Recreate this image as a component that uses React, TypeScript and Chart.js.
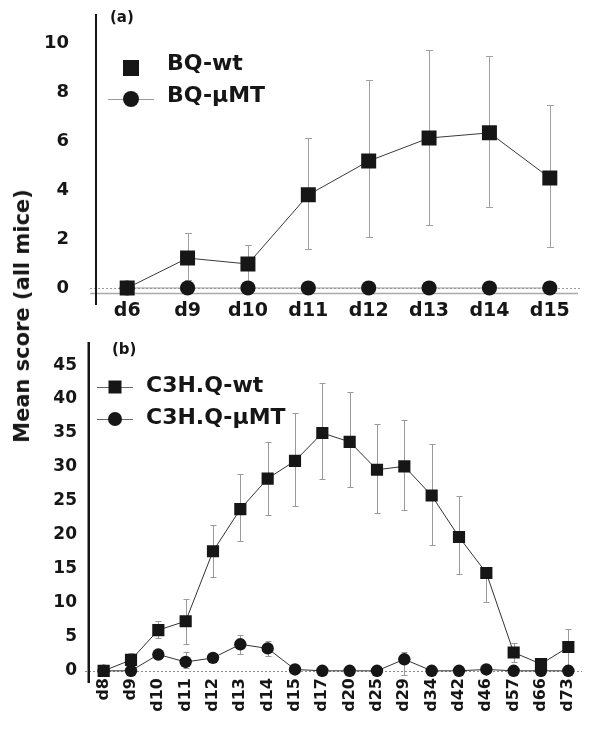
import React, { useEffect, useRef } from 'react';
import { Chart, registerables } from 'chart.js';

Chart.register(...registerables);

// ---------- Panel (a) data ----------
const labelsA = ['d6', 'd9', 'd10', 'd11', 'd12', 'd13', 'd14', 'd15'];
const bqWt = [0, 1.22, 0.98, 3.8, 5.18, 6.12, 6.33, 4.49];
const bqWtHigh = [0, 2.24, 1.76, 6.12, 8.47, 9.71, 9.47, 7.47];
const bqWtLow = [0, 0.33, 0.2, 1.59, 2.08, 2.57, 3.31, 1.67];
const bqMu = [0, 0, 0, 0, 0, 0, 0, 0];
const yTicksA = [0, 2, 4, 6, 8, 10];

// ---------- Panel (b) data ----------
const labelsB = ['d8', 'd9', 'd10', 'd11', 'd12', 'd13', 'd14', 'd15', 'd17', 'd20', 'd25', 'd29', 'd34', 'd42', 'd46', 'd57', 'd66', 'd73'];
const c3hWt = [0, 1.6, 6.0, 7.3, 17.6, 23.8, 28.3, 30.9, 35.0, 33.7, 29.6, 30.1, 25.8, 19.7, 14.4, 2.7, 1.0, 3.5];
const c3hWtHigh = [0, 2.6, 7.4, 10.6, 21.4, 29.0, 33.7, 37.9, 42.3, 41.0, 36.4, 36.9, 33.4, 25.7, 14.4, 4.1, 1.2, 6.1];
const c3hWtLow = [0, 0.6, 4.8, 4.0, 13.8, 19.1, 22.9, 24.2, 28.2, 27.0, 23.2, 23.6, 18.5, 14.2, 10.2, 1.3, 0.8, 0.9];
const c3hMu = [0, 0, 2.4, 1.3, 1.9, 3.9, 3.3, 0.2, 0, 0, 0, 1.7, 0, 0, 0.2, 0, 0, 0];
const c3hMuHigh = [0, 0, 3.0, 2.8, 2.5, 5.3, 4.4, 0.2, 0, 0, 0, 2.8, 0, 0, 0.2, 0, 0, 0];
const c3hMuLow = [0, 0, 1.8, 0.4, 1.3, 2.5, 2.2, 0.2, 0, 0, 0, -0.6, 0, 0, 0.2, 0, 0, 0];
const yTicksB = [0, 5, 10, 15, 20, 25, 30, 35, 40, 45];

const FONT = '"DejaVu Sans", "Liberation Sans", Arial, sans-serif';
const INK = '#161616';

const errorBarsPlugin = {
  id: 'errorBars',
  beforeDatasetsDraw(chart: any, _args: any, opts: any) {
    const { ctx } = chart;
    const ys = chart.scales.y;
    ctx.save();
    ctx.strokeStyle = opts.color || '#9a9a9a';
    ctx.lineWidth = 1;
    const cap = opts.cap || 3.5;
    chart.data.datasets.forEach((ds: any, di: number) => {
      if (!ds.errHigh || !ds.errLow) return;
      const meta = chart.getDatasetMeta(di);
      meta.data.forEach((pt: any, i: number) => {
        const v = ds.data[i];
        const hi = ds.errHigh[i];
        const lo = ds.errLow[i];
        if (hi === v && lo === v) return;
        const x = Math.round(pt.x) + 0.5;
        const yh = Math.round(ys.getPixelForValue(hi)) + 0.5;
        const yl = Math.round(ys.getPixelForValue(lo)) + 0.5;
        ctx.beginPath();
        ctx.moveTo(x, yh);
        ctx.lineTo(x, yl);
        if (hi > v) { ctx.moveTo(x - cap, yh); ctx.lineTo(x + cap, yh); }
        if (lo < v) { ctx.moveTo(x - cap, yl); ctx.lineTo(x + cap, yl); }
        ctx.stroke();
      });
    });
    ctx.restore();
  },
};

const refLinesPlugin = {
  id: 'refLines',
  beforeDatasetsDraw(chart: any, _args: any, opts: any) {
    const { ctx, chartArea } = chart;
    const ys = chart.scales.y;
    ctx.save();
    (opts.lines || []).forEach((l: any) => {
      const y = Math.round(ys.getPixelForValue(l.value)) + 0.5;
      ctx.beginPath();
      ctx.strokeStyle = l.color;
      ctx.lineWidth = l.width || 1;
      ctx.setLineDash(l.dash || []);
      ctx.moveTo(chartArea.left + (l.extLeft || 0), y);
      ctx.lineTo(chartArea.right + (l.extRight || 0), y);
      ctx.stroke();
    });
    ctx.restore();
  },
};

// vertical axis line that runs a little below the plot area, as in the figure
const axisLinePlugin = {
  id: 'axisLine',
  afterDraw(chart: any, _args: any, opts: any) {
    const { ctx, chartArea } = chart;
    ctx.save();
    ctx.strokeStyle = opts.color || INK;
    ctx.lineWidth = opts.width || 2;
    ctx.beginPath();
    ctx.moveTo(chartArea.left - (opts.width || 2) / 2, chartArea.top);
    ctx.lineTo(chartArea.left - (opts.width || 2) / 2, chartArea.bottom + (opts.extBottom || 0));
    ctx.stroke();
    ctx.restore();
  },
};

const customLegendPlugin = {
  id: 'customLegend',
  afterDraw(chart: any, _args: any, opts: any) {
    if (!opts || !opts.items) return;
    const { ctx, chartArea } = chart;
    ctx.save();
    opts.items.forEach((it: any, i: number) => {
      const ds = chart.data.datasets[i];
      const mx = chartArea.left + opts.markerX;
      const my = chartArea.top + opts.rowY[i];
      if (it.line) {
        ctx.beginPath();
        ctx.strokeStyle = it.lineColor;
        ctx.lineWidth = 1;
        ctx.moveTo(mx - opts.lineHalf, Math.round(my) + 0.5);
        ctx.lineTo(mx + opts.lineHalf, Math.round(my) + 0.5);
        ctx.stroke();
      }
      ctx.fillStyle = INK;
      ctx.beginPath();
      if (it.shape === 'rect') {
        ctx.rect(mx - it.size / 2, my - it.size / 2, it.size, it.size);
      } else {
        ctx.arc(mx, my, it.size / 2, 0, Math.PI * 2);
      }
      ctx.fill();
      ctx.font = `bold ${opts.fontSize}px ${FONT}`;
      ctx.textBaseline = 'middle';
      ctx.textAlign = 'left';
      ctx.fillStyle = INK;
      ctx.fillText(ds.label, chartArea.left + opts.textX, my + (it.textDy || 0));
    });
    ctx.restore();
  },
};

const noPadY = (width: number) => (s: any) => {
  s.width = width;
  s.paddingTop = 0;
  s.paddingBottom = 0;
};
const noPadX = (height: number) => (s: any) => {
  s.height = height;
  s.paddingLeft = 0;
  s.paddingRight = 0;
};

function makeConfigA(): any {
  return {
    type: 'line',
    data: {
      labels: labelsA,
      datasets: [
        {
          label: 'BQ-wt', data: bqWt, errHigh: bqWtHigh, errLow: bqWtLow,
          borderColor: '#3a3a3a', borderWidth: 1, pointStyle: 'rect', pointRadius: 10.6,
          pointBackgroundColor: INK, pointBorderColor: INK, pointBorderWidth: 0,
        },
        {
          label: 'BQ-\u03bcMT', data: bqMu,
          borderColor: '#9a9a9a', borderWidth: 1, pointStyle: 'circle', pointRadius: 7.6,
          pointBackgroundColor: INK, pointBorderColor: INK, pointBorderWidth: 0,
        },
      ],
    },
    options: {
      animation: false, responsive: false, devicePixelRatio: 1,
      layout: { padding: { top: 14, right: 20, left: 0, bottom: 0 } },
      plugins: {
        legend: { display: false }, tooltip: { enabled: false },
        errorBars: { color: '#a0a0a0', cap: 3.5 },
        axisLine: { width: 2, extBottom: 5 },
        refLines: {
          lines: [
            { value: 0, color: '#9a9a9a', dash: [2, 2], extLeft: -7, extRight: 0 },
            { value: -0.19, color: '#aaaaaa', width: 1.5, extLeft: -7, extRight: -2 },
          ],
        },
        customLegend: {
          markerX: 34, rowY: [54, 85], lineHalf: 23, textX: 70, fontSize: 22,
          items: [
            { shape: 'rect', size: 16, line: false, textDy: -4 },
            { shape: 'circle', size: 16, line: true, lineColor: '#9a9a9a', textDy: -3 },
          ],
        },
      },
      scales: {
        x: {
          offset: true,
          grid: { display: false, drawTicks: false, offset: true }, border: { display: false },
          ticks: { font: { family: FONT, size: 19, weight: 'bold' }, color: INK, padding: 0, maxRotation: 0, autoSkip: false },
          afterFit: noPadX(30),
        },
        y: {
          min: -0.49, max: 11.18,
          grid: { display: false, drawTicks: false }, border: { display: false },
          ticks: { font: { family: FONT, size: 18, weight: 'bold' }, color: INK, padding: 28 },
          afterBuildTicks: (s: any) => { s.ticks = yTicksA.map((v) => ({ value: v })); },
          afterFit: noPadY(97),
        },
      },
    },
    plugins: [errorBarsPlugin, refLinesPlugin, axisLinePlugin, customLegendPlugin],
  };
}

function makeConfigB(): any {
  return {
    type: 'line',
    data: {
      labels: labelsB,
      datasets: [
        {
          label: 'C3H.Q-wt', data: c3hWt, errHigh: c3hWtHigh, errLow: c3hWtLow,
          borderColor: '#333333', borderWidth: 1, pointStyle: 'rect', pointRadius: 8.6,
          pointBackgroundColor: INK, pointBorderColor: INK, pointBorderWidth: 0,
        },
        {
          label: 'C3H.Q-\u03bcMT', data: c3hMu, errHigh: c3hMuHigh, errLow: c3hMuLow,
          borderColor: '#333333', borderWidth: 1, pointStyle: 'circle', pointRadius: 6.2,
          pointBackgroundColor: INK, pointBorderColor: INK, pointBorderWidth: 0,
        },
      ],
    },
    options: {
      animation: false, responsive: false, devicePixelRatio: 1,
      layout: { padding: { top: 22, right: 18, left: 0, bottom: 0 } },
      plugins: {
        legend: { display: false }, tooltip: { enabled: false },
        errorBars: { color: '#9a9a9a', cap: 3 },
        axisLine: { width: 2.5, extBottom: 6 },
        refLines: {
          lines: [{ value: 0, color: '#8a8a8a', dash: [2, 2], extLeft: -5, extRight: 0 }],
        },
        customLegend: {
          markerX: 25, rowY: [45, 77], lineHalf: 18, textX: 56, fontSize: 22,
          items: [
            { shape: 'rect', size: 13, line: true, lineColor: '#666666', textDy: -1 },
            { shape: 'circle', size: 14, line: true, lineColor: '#666666', textDy: -1 },
          ],
        },
      },
      scales: {
        x: {
          offset: true,
          grid: { display: false, drawTicks: false, offset: true }, border: { display: false },
          ticks: { font: { family: FONT, size: 16, weight: 'bold' }, color: INK, padding: 1, minRotation: 90, maxRotation: 90, autoSkip: false },
          afterFit: noPadX(60),
        },
        y: {
          min: -0.91, max: 48.4,
          grid: { display: false, drawTicks: false }, border: { display: false },
          ticks: { font: { family: FONT, size: 17, weight: 'bold' }, color: INK, padding: 13 },
          afterBuildTicks: (s: any) => { s.ticks = yTicksB.map((v) => ({ value: v })); },
          afterFit: noPadY(90),
        },
      },
    },
    plugins: [errorBarsPlugin, refLinesPlugin, axisLinePlugin, customLegendPlugin],
  };
}

function ChartCanvas({ make, top, height }: { make: () => any; top: number; height: number }) {
  const ref = useRef<HTMLCanvasElement | null>(null);
  useEffect(() => {
    if (!ref.current) return;
    const chart = new Chart(ref.current, make());
    return () => chart.destroy();
  }, [make]);
  return (
    <canvas
      ref={ref}
      width={600}
      height={height}
      style={{ position: 'absolute', left: 0, top, width: 600, height }}
    />
  );
}

export default function App() {
  return (
    <div style={{ position: 'absolute', left: 0, top: 0, width: 600, height: 737, background: '#ffffff', overflow: 'hidden' }}>
      <ChartCanvas make={makeConfigA} top={0} height={330} />
      <ChartCanvas make={makeConfigB} top={320} height={417} />
      <div style={{ position: 'absolute', left: 110, top: 8, font: `bold 15px ${FONT}`, color: INK }}>(a)</div>
      <div style={{ position: 'absolute', left: 112, top: 340, font: `bold 15px ${FONT}`, color: INK }}>(b)</div>
      <div
        style={{
          position: 'absolute', left: 22, top: 316, transform: 'translate(-50%, -50%) rotate(-90deg)',
          font: `bold 21px ${FONT}`, color: INK, whiteSpace: 'nowrap',
        }}
      >
        Mean score (all mice)
      </div>
    </div>
  );
}
